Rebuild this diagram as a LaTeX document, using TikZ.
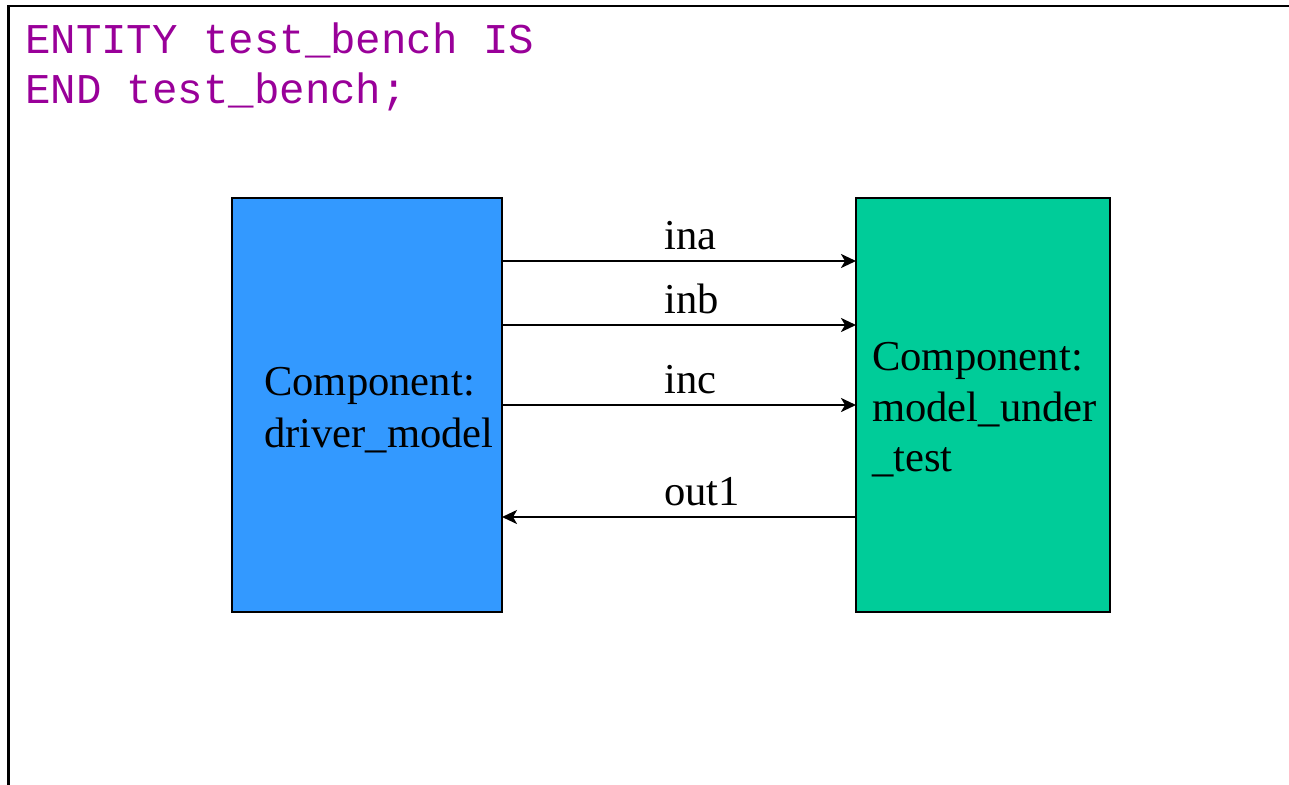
\documentclass[tikz,border=0pt]{standalone}
\usepackage{fontspec}
\setmainfont{Liberation Serif}
\newfontfamily\codefont{Liberation Mono}
\usetikzlibrary{arrows.meta}
\definecolor{codepurple}{RGB}{153,0,153}
\definecolor{driverblue}{RGB}{51,153,255}
\definecolor{mutgreen}{RGB}{0,204,153}
\begin{document}
\begin{tikzpicture}[x=1pt,y=-1pt,
  compbox/.style={draw=black,line width=2.4pt,inner sep=0pt,outer sep=0pt,minimum height=414pt},
  codeline/.style={anchor=base west,inner sep=0pt,font=\codefont\fontsize{42.4}{50}\selectfont,text=codepurple},
  txt/.style={anchor=base west,inner sep=0pt,font=\fontsize{42.6}{50}\selectfont},
  sig/.style={line width=2.3pt,-{Stealth[length=15pt,width=14pt,inset=4pt]}}]
\useasboundingbox (0,0) rectangle (1289,784);
\clip (0,0) rectangle (1289,784);
\draw[line width=2.8pt] (8.5,6) rectangle (1320,820);
\node[codeline] (l1) at (25,53) {ENTITY test\_bench IS};
\node[codeline] (l2) at (25,103) {END test\_bench;};
\node[compbox,fill=driverblue,minimum width=270pt] (drv) at (367,405) {};
\node[compbox,fill=mutgreen,minimum width=254pt] (mut) at (983,405) {};
\node[txt] (d1) at (264,395) {Component:};
\node[txt] (d2) at (264,447) {driver\_model};
\node[txt] (m1) at (872,370) {Component:};
\node[txt] (m2) at (872,421) {model\_under};
\node[txt] (m3) at (872,471) {\_test};
\draw[sig] (drv.east |- 0,261) -- (mut.west |- 0,261);
\draw[sig] (drv.east |- 0,325) -- (mut.west |- 0,325);
\draw[sig] (drv.east |- 0,405) -- (mut.west |- 0,405);
\draw[sig] (mut.west |- 0,517) -- (drv.east |- 0,517);
\node[txt] (ina) at (664,249) {ina};
\node[txt] (inb) at (664,313) {inb};
\node[txt] (inc) at (664,393) {inc};
\node[txt] (out) at (664,505) {out1};
\end{tikzpicture}
\end{document}
